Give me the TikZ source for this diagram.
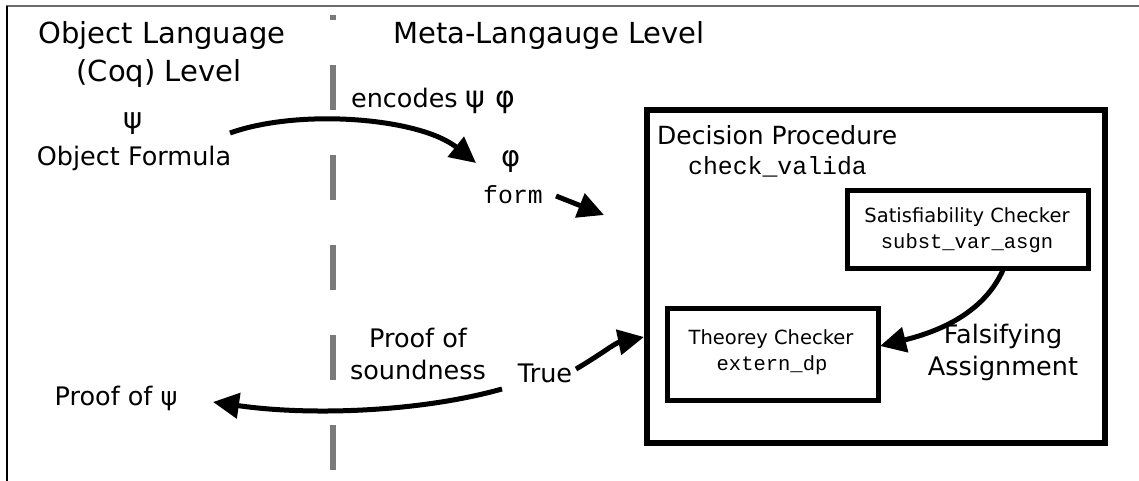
\documentclass[tikz,border=0pt]{standalone}
\usepackage{fontspec}
\setmainfont{DejaVu Sans}
\newfontfamily\monof{Liberation Mono}
\usetikzlibrary{arrows.meta}
\begin{document}
\begin{tikzpicture}[x=1pt,y=-1pt,
  txt/.style={inner sep=0pt, anchor=center, align=center},
  big/.style={txt, font=\fontsize{29}{34}\selectfont},
  mid/.style={txt, font=\fontsize{25.5}{32}\selectfont},
  small/.style={txt, font=\fontsize{19.5}{26}\selectfont},
  mono/.style={txt, font=\fontsize{24.8}{28}\monof},
  smono/.style={txt, font=\fontsize{20.5}{26}\monof},
  conn/.style={line width=5pt, -{Triangle[length=26pt,width=25pt]}},
  bigbox/.style={draw, line width=6pt},
  subbox/.style={draw, line width=5pt}
]
\useasboundingbox (0,0) rectangle (1139,481);
% frame
\draw[line width=2pt, gray!85!black] (6,6) -- (1139,6);
\draw[line width=2pt, black] (7,6) -- (7,481);
% separator
\draw[line width=6pt, color={rgb,255:red,122;green,122;blue,122}, dash pattern=on 45pt off 45pt, dash phase=40pt] (333,15) -- (333,481);

% titles
\node[big] (objlang) at (162,36) {Object Language};
\node[big] (coq) at (159,74) {(Coq) Level};
\node[big] (meta) at (549,36) {Meta-Langauge Level};

\node[mid] (encodes) at (433,101) {encodes {\fontsize{30}{30}\selectfont ψ φ}};
\node[txt, font=\fontsize{29}{30}\selectfont] (psi) at (133,124) {ψ};
\node[mid] (objform) at (134,158) {Object Formula};
\node[txt, font=\fontsize{29}{30}\selectfont] (phi) at (511,162) {φ};
\node[mono] (form) at (513,195) {form};

% boxes
\draw[bigbox] (647,110) rectangle (1105,443);
\node[txt, font=\fontsize{25}{30}\selectfont, anchor=west] (dp) at (657,135) {Decision Procedure};
\node[mono, anchor=west] (cv) at (688,167) {check\_valida};

\node[subbox, minimum width=241pt, minimum height=78pt, inner sep=0pt] (sat) at (967.5,229) {};
\node[small] at (967,217) {Satisfiability Checker};
\node[smono] at (967,243) {subst\_var\_asgn};

\node[subbox, minimum width=211pt, minimum height=92pt, inner sep=0pt] (thy) at (772.5,354) {};
\node[small] at (771,339) {Theorey Checker};
\node[smono] at (772,365) {extern\_dp};

\node[mid] (fals) at (1003,352) {Falsifying\\Assignment};

\node[mid] (true) at (545,373) {True};
\node[mid] (sound) at (418,354) {Proof of\\soundness};
\node[mid] (proofpsi) at (116,398) {Proof of ψ};

% connectors
\coordinate (e1) at (230,133);
\coordinate (e2) at (476,163);
\draw[conn] (e1) .. controls (300,108) and (420,118) .. (e2);

\coordinate (f1) at (556,196);
\coordinate (f2) at (604,215);
\draw[conn] (f1) -- (f2);

\coordinate (s1) at (1003,270);
\coordinate (s2) at (880,346);
\draw[conn] (s1) .. controls (985,310) and (945,330) .. (s2);

\coordinate (t1) at (576,369);
\coordinate (t2) at (644,337);
\draw[conn] (t1) .. controls (600,355) and (615,343) .. (t2);

\coordinate (p1) at (502,389);
\coordinate (p2) at (213,402);
\draw[conn] (p1) .. controls (420,412) and (310,416) .. (p2);
\end{tikzpicture}
\end{document}
